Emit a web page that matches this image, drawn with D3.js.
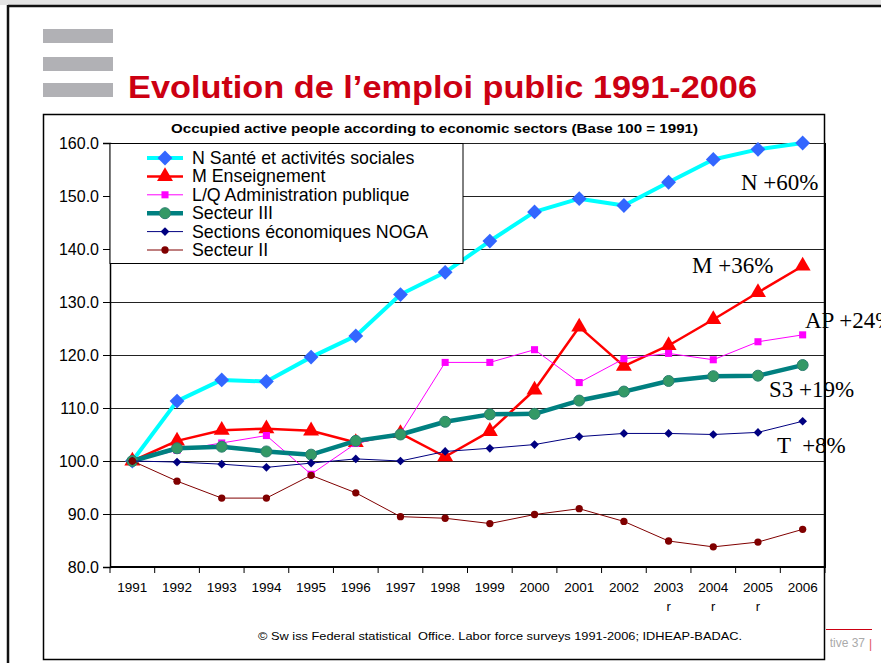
<!DOCTYPE html>
<html>
<head>
<meta charset="utf-8">
<script src="https://cdn.jsdelivr.net/npm/d3@7"></script>
<style>
  body { margin: 0; background: #fff; }
  svg { display: block; font-family: Arial, "Liberation Sans", sans-serif; }
  .ann { font-family: "Times New Roman", "Liberation Serif", serif; font-size: 23px; white-space: pre; }
</style>
</head>
<body>
<svg id="chart"></svg>
<script>
// years on the category axis
const years = ['1991','1992','1993','1994','1995','1996','1997','1998','1999','2000','2001','2002','2003','2004','2005','2006'];
const revisedYears = ['2003','2004','2005'];
const yTicks = [80, 90, 100, 110, 120, 130, 140, 150, 160];

// series names (legend order)
const seriesNames = ['N Santé et activités sociales', 'M Enseignement', 'L/Q Administration publique',
  'Secteur III', 'Sections économiques NOGA', 'Secteur II'];

// index values, base 100 = 1991
const santeValues = [100, 111.3, 115.3, 115.0, 119.6, 123.6, 131.4, 135.6, 141.5, 147.0, 149.5, 148.2, 152.6, 156.9, 158.8, 160.0];
const enseignementValues = [100, 103.8, 105.8, 106.1, 105.7, 103.5, 105.2, 100.8, 105.6, 113.4, 125.3, 117.9, 121.8, 126.7, 131.8, 136.8];
const adminValues = [100, 102.0, 103.4, 104.8, 97.5, 103.3, 105.2, 118.6, 118.6, 121.0, 114.8, 119.3, 120.3, 119.1, 122.5, 123.8];
const secteur3Values = [100, 102.4, 102.7, 101.8, 101.2, 103.8, 105.0, 107.4, 108.8, 108.9, 111.4, 113.1, 115.1, 116.0, 116.1, 118.1];
const nogaValues = [100, 99.8, 99.4, 98.8, 99.6, 100.4, 100.0, 101.8, 102.4, 103.1, 104.6, 105.2, 105.2, 105.0, 105.4, 107.5];
const secteur2Values = [100, 96.2, 93.0, 93.0, 97.3, 94.0, 89.5, 89.2, 88.2, 89.9, 91.0, 88.6, 84.9, 83.8, 84.7, 87.1];

// end-of-line labels
const endLabels = ['N +60%', 'M +36%', 'AP +24%', 'S3 +19%', 'T  +8%'];

class SectorChart {

  constructor(_config, _data) {
    this.config = {
      parentElement: _config.parentElement,
      containerWidth: _config.containerWidth || 881,
      containerHeight: _config.containerHeight || 663,
      plot: { left: 110, right: 825, top: 143, bottom: 567 }
    }
    this.data = _data;
    this.initVis();
  }

  initVis() {
    let vis = this;
    const p = vis.config.plot;

    vis.svg = d3.select(vis.config.parentElement)
      .attr('width', vis.config.containerWidth)
      .attr('height', vis.config.containerHeight);

    // slide background / border
    vis.svg.append('rect').attr('x', 0).attr('y', 0).attr('width', 881).attr('height', 5).attr('fill', '#e4e4e4');
    vis.svg.append('line').attr('x1', 8).attr('x2', 881).attr('y1', 6).attr('y2', 6)
      .attr('stroke', '#111').attr('stroke-width', 2.5);
    vis.svg.append('line').attr('x1', 8).attr('x2', 8).attr('y1', 5).attr('y2', 663)
      .attr('stroke', '#111').attr('stroke-width', 2.5);

    // grey bullets
    [29, 57, 83].forEach(y => {
      vis.svg.append('rect').attr('x', 43).attr('y', y).attr('width', 70).attr('height', 14).attr('fill', '#b1b1b5');
    });

    vis.svg.append('text')
      .attr('x', 128).attr('y', 98)
      .attr('font-size', 32).attr('font-weight', 'bold').attr('fill', '#cc0012')
      .attr('textLength', 629).attr('lengthAdjust', 'spacingAndGlyphs')
      .text('Evolution de l’emploi public 1991-2006');

    // slide footer (mostly hidden by the chart)
    vis.svg.append('defs').append('clipPath').attr('id', 'footclip')
      .append('rect').attr('x', 830).attr('y', 620).attr('width', 60).attr('height', 40);
    vis.svg.append('line').attr('x1', 826).attr('x2', 872).attr('y1', 629.5).attr('y2', 629.5)
      .attr('stroke', '#cc0012').attr('stroke-width', 1);
    vis.svg.append('text').attr('x', 865).attr('y', 647).attr('text-anchor', 'end')
      .attr('clip-path', 'url(#footclip)')
      .attr('font-size', 12).attr('fill', '#aaa').text('Diapositive 37');
    vis.svg.append('text').attr('x', 869).attr('y', 648)
      .attr('font-size', 12).attr('fill', '#e05060').text('|');

    // chart frame
    vis.svg.append('rect')
      .attr('x', 43.5).attr('y', 114.5).attr('width', 781).attr('height', 545)
      .attr('fill', '#fff').attr('stroke', '#000').attr('stroke-width', 1.5);

    vis.svg.append('text')
      .attr('x', 171).attr('y', 133)
      .attr('font-size', 12).attr('font-weight', 'bold')
      .attr('textLength', 527).attr('lengthAdjust', 'spacingAndGlyphs')
      .text('Occupied active people according to economic sectors (Base 100 = 1991)');

    vis.xScale = d3.scaleBand().domain(years).range([p.left, p.right]).padding(0);
    vis.yScale = d3.scaleLinear().domain([80, 160]).range([p.bottom, p.top]);

    vis.chart = vis.svg.append('g');

    // gridlines
    vis.chart.selectAll('.grid')
      .data(yTicks.filter(d => d > 80))
      .join('line')
      .attr('class', 'grid')
      .attr('x1', p.left).attr('x2', p.right)
      .attr('y1', d => Math.round(vis.yScale(d)) + 0.5).attr('y2', d => Math.round(vis.yScale(d)) + 0.5)
      .attr('stroke', '#222').attr('stroke-width', 1);

    // y axis
    vis.yAxis = d3.axisLeft(vis.yScale)
      .tickValues(yTicks)
      .tickFormat(d3.format('.1f'))
      .tickSizeOuter(0)
      .tickSize(7)
      .tickPadding(4);
    vis.yAxisGroup = vis.chart.append('g')
      .attr('transform', `translate(${p.left},0)`)
      .call(vis.yAxis);
    vis.yAxisGroup.select('.domain').attr('stroke-width', 1.5);
    vis.yAxisGroup.selectAll('text').attr('font-size', 16).attr('font-family', 'Arial, "Liberation Sans", sans-serif')
      .attr('fill', '#000');

    // x axis (ticks between categories)
    vis.xAxisGroup = vis.chart.append('g');
    vis.xAxisGroup.selectAll('.xtick')
      .data(years.concat(['end']))
      .join('line')
      .attr('class', 'xtick')
      .attr('x1', d => d === 'end' ? p.right : vis.xScale(d))
      .attr('x2', d => d === 'end' ? p.right : vis.xScale(d))
      .attr('y1', p.bottom).attr('y2', p.bottom + 6)
      .attr('stroke', '#000');
    vis.xAxisGroup.append('line')
      .attr('x1', p.left).attr('x2', p.right + 1)
      .attr('y1', p.bottom).attr('y2', p.bottom)
      .attr('stroke', '#000').attr('stroke-width', 2);
    vis.xAxisGroup.selectAll('.xlabel')
      .data(years)
      .join('text')
      .attr('class', 'xlabel')
      .attr('x', d => vis.xScale(d) + vis.xScale.bandwidth() / 2)
      .attr('y', 592)
      .attr('text-anchor', 'middle')
      .attr('font-size', 13.5)
      .text(d => d);
    vis.xAxisGroup.selectAll('.rlabel')
      .data(revisedYears)
      .join('text')
      .attr('class', 'rlabel')
      .attr('x', d => vis.xScale(d) + vis.xScale.bandwidth() / 2)
      .attr('y', 611)
      .attr('text-anchor', 'middle')
      .attr('font-size', 13)
      .text('r');

    // right border of plot
    vis.chart.append('line')
      .attr('x1', p.right).attr('x2', p.right).attr('y1', p.top).attr('y2', p.bottom)
      .attr('stroke', '#000').attr('stroke-width', 2);

    vis.svg.append('text')
      .attr('x', 258).attr('y', 640)
      .attr('font-size', 11.5)
      .attr('textLength', 484).attr('lengthAdjust', 'spacingAndGlyphs')
      .text('© Sw iss Federal statistical  Office. Labor force surveys 1991-2006; IDHEAP-BADAC.')
      .style('white-space', 'pre');

    vis.updateVis();
  }

  symbolPath(d, size) {
    return d3.symbol().type(d.shape).size(size)();
  }

  updateVis() {
    let vis = this;
    const p = vis.config.plot;

    vis.line = d3.line()
      .x((d, i) => vis.xScale(years[i]) + vis.xScale.bandwidth() / 2)
      .y(d => vis.yScale(d));

    // legend box
    const lg = vis.svg.append('g');
    lg.append('rect')
      .attr('x', p.left).attr('y', 143.5).attr('width', 353).attr('height', 120)
      .attr('fill', '#fff').attr('stroke', '#000').attr('stroke-width', 1);

    const series = vis.chart.selectAll('.series')
      .data(vis.data)
      .join('g')
      .attr('class', 'series');

    series.append('path')
      .attr('d', d => vis.line(d.values))
      .attr('fill', 'none')
      .attr('stroke', d => d.color)
      .attr('stroke-width', d => d.width)
      .attr('stroke-linejoin', 'round');

    series.each(function(s) {
      d3.select(this).selectAll('.pt')
        .data(s.values)
        .join('path')
        .attr('class', 'pt')
        .attr('transform', (d, i) => `translate(${vis.xScale(years[i]) + vis.xScale.bandwidth() / 2},${vis.yScale(d)})${s.rotate ? ' rotate(45)' : ''}`)
        .attr('d', vis.symbolPath(s, s.size))
        .attr('fill', s.fill)
        .attr('stroke', s.stroke || 'none')
        .attr('stroke-width', s.stroke ? 1 : 0);
    });

    // legend entries
    const rows = lg.selectAll('.lrow')
      .data(vis.data)
      .join('g')
      .attr('class', 'lrow')
      .attr('transform', (d, i) => `translate(0,${158 + i * 18.4})`);
    rows.append('line')
      .attr('x1', 147).attr('x2', 183).attr('y1', 0).attr('y2', 0)
      .attr('stroke', d => d.color).attr('stroke-width', d => d.width);
    rows.append('path')
      .attr('transform', d => `translate(165,0)${d.rotate ? ' rotate(45)' : ''}`)
      .attr('d', d => vis.symbolPath(d, d.size))
      .attr('fill', d => d.fill)
      .attr('stroke', d => d.stroke || 'none');
    rows.append('text')
      .attr('x', 192).attr('y', 6)
      .attr('font-size', 17.8)
      .text(d => d.name);

    // end labels
    const annPos = [[741, 190], [692, 273], [805, 328], [769, 397], [777, 453]];
    vis.svg.selectAll('.ann')
      .data(endLabels)
      .join('text')
      .attr('class', 'ann')
      .attr('x', (d, i) => annPos[i][0])
      .attr('y', (d, i) => annPos[i][1])
      .text(d => d);
  }
}

const data = [
  { name: seriesNames[0], values: santeValues, color: '#00ffff', width: 4, shape: d3.symbolSquare, rotate: true, size: 110, fill: '#3366ff' },
  { name: seriesNames[1], values: enseignementValues, color: '#ff0000', width: 2.5, shape: d3.symbolTriangle, size: 110, fill: '#ff0000' },
  { name: seriesNames[2], values: adminValues, color: '#ff00ff', width: 1, shape: d3.symbolSquare, size: 50, fill: '#ff00ff' },
  { name: seriesNames[3], values: secteur3Values, color: '#008080', width: 4.5, shape: d3.symbolCircle, size: 95, fill: '#339966', stroke: '#2b7f70' },
  { name: seriesNames[4], values: nogaValues, color: '#000080', width: 1, shape: d3.symbolSquare, rotate: true, size: 38, fill: '#000080' },
  { name: seriesNames[5], values: secteur2Values, color: '#800000', width: 1, shape: d3.symbolCircle, size: 42, fill: '#800000' }
];

new SectorChart({ parentElement: '#chart' }, data);
</script>
</body>
</html>
